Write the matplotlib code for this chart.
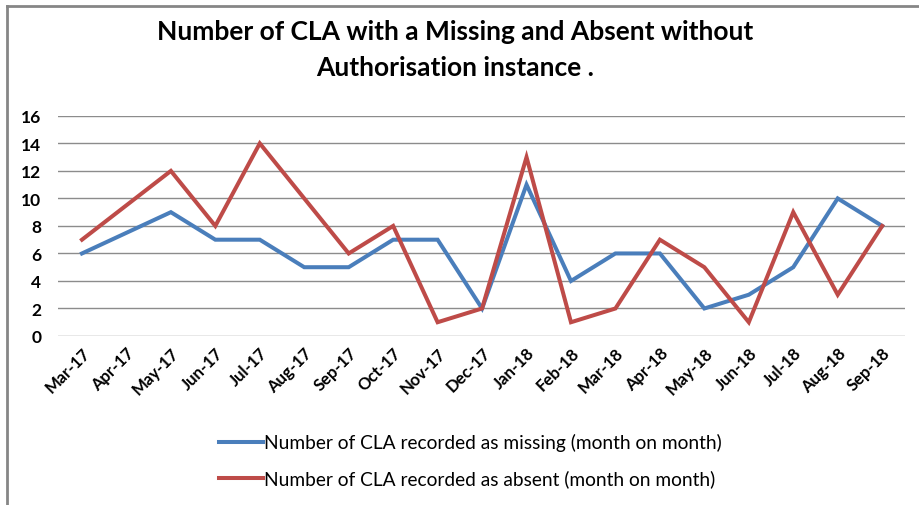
import matplotlib
matplotlib.use("Agg")
import matplotlib.pyplot as plt
from matplotlib.lines import Line2D

plt.rcParams['font.family'] = ['Lato', 'DejaVu Sans']

months = ['Mar-17', 'Apr-17', 'May-17', 'Jun-17', 'Jul-17', 'Aug-17', 'Sep-17',
          'Oct-17', 'Nov-17', 'Dec-17', 'Jan-18', 'Feb-18', 'Mar-18', 'Apr-18',
          'May-18', 'Jun-18', 'Jul-18', 'Aug-18', 'Sep-18']
missing = [6, 7.5, 9, 7, 7, 5, 5, 7, 7, 2, 11, 4, 6, 6, 2, 3, 5, 10, 8]
absent = [7, 9.5, 12, 8, 14, 10, 6, 8, 1, 2, 13, 1, 2, 7, 5, 1, 9, 3, 8]

BLUE = '#4a7ebb'
RED = '#be4b48'

fig = plt.figure(figsize=(9.2, 5.06), dpi=100)
ax = fig.add_axes([0.063, 0.334, 0.921, 0.435])

x = list(range(len(months)))
ax.plot(x, missing, color=BLUE, lw=2.9, solid_joinstyle='miter',
        label='Number of CLA recorded as missing (month on month)')
ax.plot(x, absent, color=RED, lw=2.9, solid_joinstyle='miter',
        label='Number of CLA recorded as absent (month on month)')

ax.set_xlim(-0.54, len(months) - 1 + 0.52)
ax.set_ylim(0, 16)
ax.set_yticks(range(0, 17, 2))
ax.set_xticks(x)
ax.set_xticklabels(months, rotation=45, ha='right', rotation_mode='anchor',
                   fontsize=12, fontweight='bold')
for lab in ax.get_yticklabels():
    lab.set_fontsize(12.5)
    lab.set_fontweight('bold')
ax.tick_params(length=0)
ax.tick_params(axis='y', pad=12)
ax.tick_params(axis='x', pad=6)
ax.grid(axis='y', color='#8c8c8c', lw=1)
ax.set_axisbelow(True)
for s in ax.spines.values():
    s.set_visible(False)

fig.text(0.495, 0.901, 'Number of CLA with a Missing and Absent without\nAuthorisation instance .',
         ha='center', va='center', fontsize=19, fontweight='bold', linespacing=1.62)

handles = [Line2D([], [], color=BLUE, lw=2.9), Line2D([], [], color=RED, lw=2.9)]
fig.legend(handles, [h.get_label() for h in ax.get_lines()],
           loc='center', bbox_to_anchor=(0.511, 0.088), frameon=False,
           fontsize=13.8, handlelength=2.3, handletextpad=0.05, labelspacing=0.95)

# chart border (top and left edges visible)
fig.add_artist(Line2D([0.0077, 0.0077], [0.0, 0.986], transform=fig.transFigure,
                      color='#868686', lw=2))
fig.add_artist(Line2D([0.0077, 1.0], [0.986, 0.986], transform=fig.transFigure,
                      color='#868686', lw=2))

fig.savefig('out.png', dpi=100)
